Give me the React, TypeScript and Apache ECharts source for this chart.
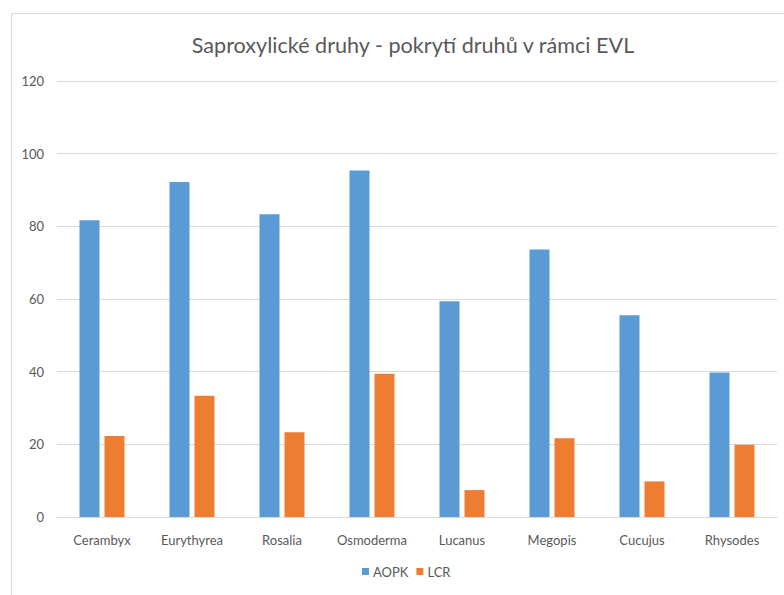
import React, { useEffect, useRef } from "react";
import * as echarts from "echarts";

const categories = ["Cerambyx", "Eurythyrea", "Rosalia", "Osmoderma", "Lucanus", "Megopis", "Cucujus", "Rhysodes"];
const aopk = [81.7, 92.2, 83.3, 95.4, 59.4, 73.6, 55.5, 39.8];
const lcr = [22.3, 33.4, 23.3, 39.4, 7.4, 21.7, 9.8, 19.9];
const seriesNames = ["AOPK", "LCR"];
const titleText = "Saproxylické druhy - pokrytí druhů v rámci EVL";

export default function App() {
  const ref = useRef<HTMLDivElement>(null);
  useEffect(() => {
    if (!ref.current) return;
    const chart = echarts.init(ref.current, null, { renderer: "svg" });
    const font = "Lato, 'Open Sans', sans-serif";
    chart.setOption({
      animation: false,
      backgroundColor: "#ffffff",
      textStyle: { fontFamily: font },
      graphic: [
        {
          type: "rect",
          shape: { x: 11.5, y: 13.5, width: 800, height: 600 },
          style: { fill: "none", stroke: "#d9d9d9", lineWidth: 1 },
          silent: true,
        },
      ],
      title: {
        text: titleText,
        left: 408,
        textAlign: "center",
        top: 29,
        textStyle: { fontFamily: font, fontSize: 21.6, fontWeight: "normal", color: "#595959" },
      },
      legend: {
        data: seriesNames,
        bottom: 12,
        left: 357,
        itemWidth: 7,
        itemHeight: 7,
        itemGap: 8,
        icon: "rect",
        textStyle: { fontFamily: font, fontSize: 13, color: "#595959", padding: [0, 0, 0, -1] },
      },
      grid: { left: 57, right: 7, top: 81, bottom: 78, containLabel: false },
      xAxis: {
        type: "category",
        data: categories,
        axisLine: { lineStyle: { color: "#d9d9d9" } },
        axisTick: { show: false },
        axisLabel: { interval: 0, fontFamily: font, fontSize: 13, color: "#595959", margin: 16 },
      },
      yAxis: {
        type: "value",
        min: 0,
        max: 120,
        interval: 20,
        axisLine: { show: false },
        axisTick: { show: false },
        splitLine: { lineStyle: { color: "#d9d9d9" } },
        axisLabel: { fontFamily: font, fontSize: 13, color: "#595959", margin: 13 },
      },
      series: [
        {
          name: seriesNames[0],
          type: "bar",
          data: aopk,
          barWidth: 20,
          barGap: "25%",
          itemStyle: { color: "#5b9bd5" },
        },
        {
          name: seriesNames[1],
          type: "bar",
          data: lcr,
          barWidth: 20,
          itemStyle: { color: "#ed7d31" },
        },
      ],
    });
    return () => chart.dispose();
  }, []);
  return <div ref={ref} style={{ width: 784, height: 595, position: "absolute", left: 0, top: 0 }} />;
}
